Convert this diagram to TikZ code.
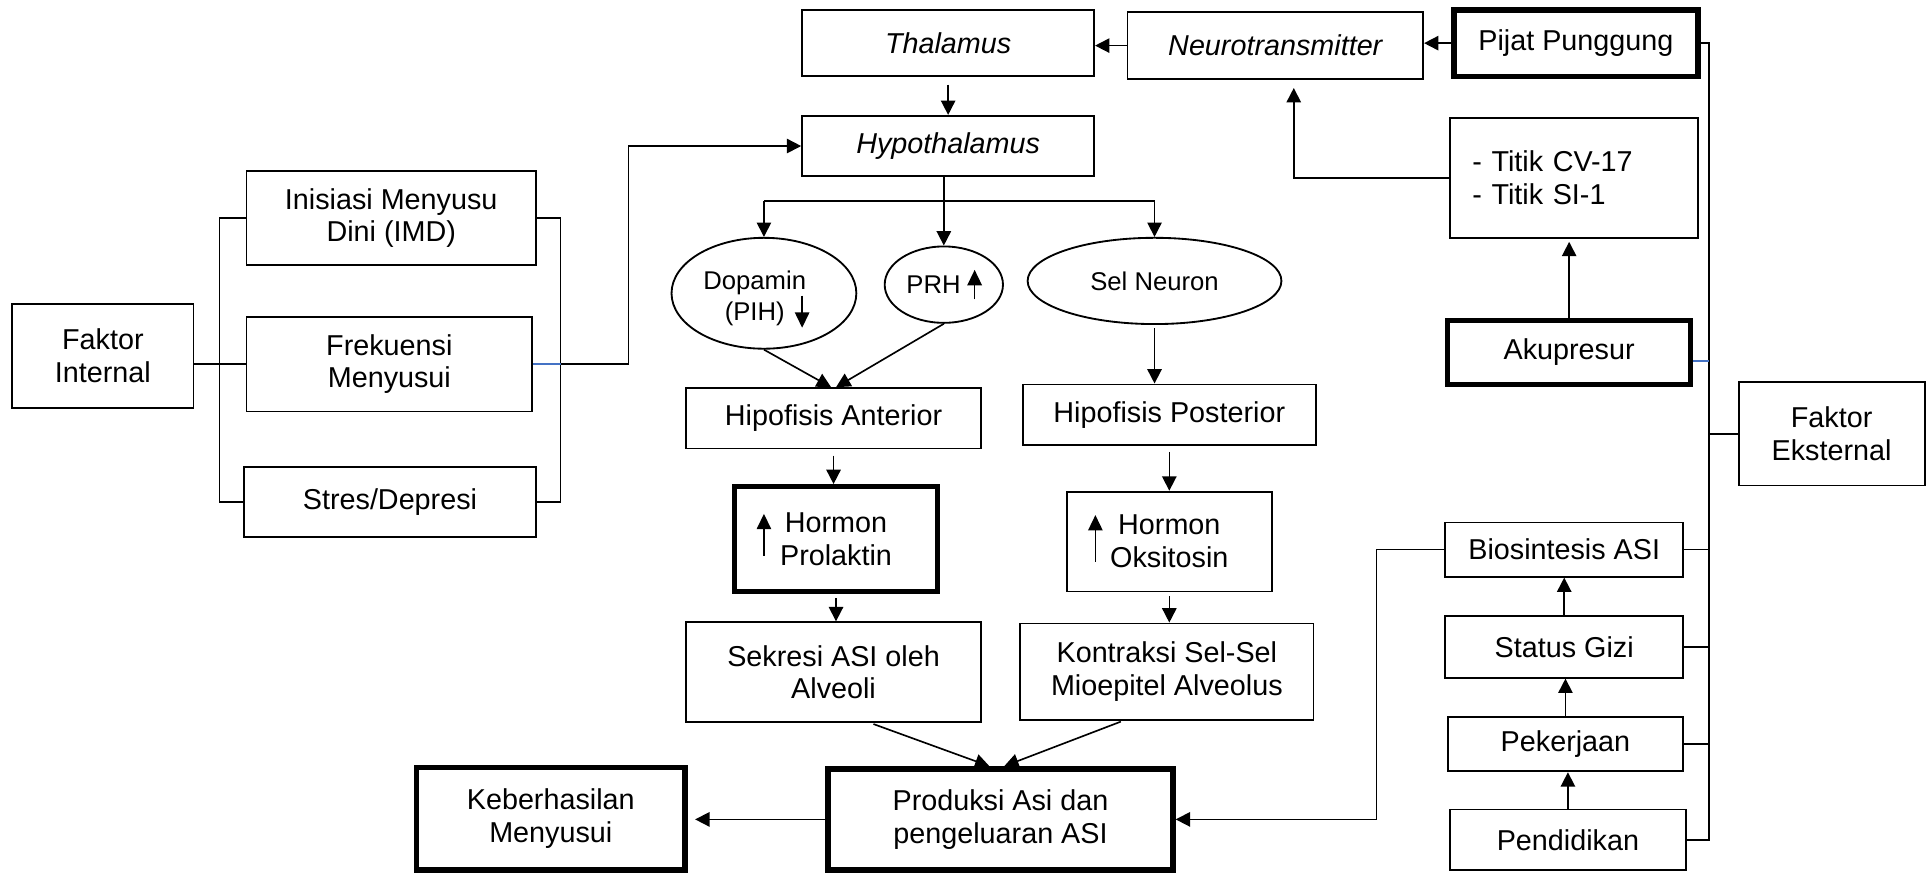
\documentclass[tikz,border=0pt]{standalone}
\usepackage{fontspec}
\setmainfont{Liberation Sans}
\usetikzlibrary{arrows.meta,shapes.geometric,calc}
\definecolor{bluel}{RGB}{68,114,196}
\begin{document}
\begin{tikzpicture}[x=0.6pt,y=-0.6pt,
  box/.style={draw,line width=0.9pt,inner sep=0pt,align=center,font=\fontsize{14}{16}\selectfont},
  tbox/.style={box,line width=2.6pt},
  ell/.style={draw,ellipse,line width=0.9pt,inner sep=0pt,align=center,font=\fontsize{12.5}{15}\selectfont},
  arr/.style={line width=0.8pt,-{Triangle[length=7pt,width=7pt]}},
  sarr/.style={line width=0.8pt,-{Triangle[length=7.5pt,width=7pt]}},
  ln/.style={line width=0.8pt},
  bl/.style={line width=0.9pt,draw=bluel}]
\useasboundingbox (0,0) rectangle (1568,709);
% boxes
\node[box,minimum width=142.2pt,minimum height=32.4pt] (thal) at (769.5,35) {\itshape Thalamus};
\node[box,minimum width=144pt,minimum height=32.4pt] (neuro) at (1035,37) {\itshape Neurotransmitter};
\node[tbox,minimum width=118.8pt,minimum height=32.4pt] (pijat) at (1279,35) {Pijat Punggung};
\node[box,minimum width=142.2pt,minimum height=29.4pt] (hypo) at (769.5,118.5) {\itshape Hypothalamus};
\node[box,minimum width=120.6pt,minimum height=58.2pt,text width=99pt,align=left] (titik) at (1277.5,144.5) {- Titik CV-17\\- Titik SI-1};
\node[tbox,minimum width=118.2pt,minimum height=31.2pt] (aku) at (1273.5,286) {Akupresur};
\node[box,minimum width=90.6pt,minimum height=50.4pt] (feks) at (1486.5,352) {Faktor\\Eksternal};
\node[box,minimum width=141pt,minimum height=45.6pt] (inis) at (317.5,177) {Inisiasi Menyusu\\Dini (IMD)};
\node[box,minimum width=139.2pt,minimum height=46.2pt] (frek) at (316,295.5) {Frekuensi\\Menyusui};
\node[box,minimum width=142.2pt,minimum height=34.2pt] (stres) at (316.5,407.5) {Stres/Depresi};
\node[box,minimum width=88.2pt,minimum height=50.4pt] (fint) at (83.5,289) {Faktor\\Internal};
\node[box,minimum width=143.4pt,minimum height=29.4pt] (hant) at (676.5,339.5) {Hipofisis Anterior};
\node[box,minimum width=142.8pt,minimum height=29.4pt] (hpos) at (949,336.5) {Hipofisis Posterior};
\node[tbox,minimum width=99pt,minimum height=51pt] (prol) at (678.5,437.5) {Hormon\\Prolaktin};
\node[box,minimum width=99.6pt,minimum height=48.6pt] (oks) at (949,439.5) {Hormon\\Oksitosin};
\node[box,minimum width=143.4pt,minimum height=48.6pt] (sek) at (676.5,545.5) {Sekresi ASI oleh\\Alveoli};
\node[box,minimum width=142.8pt,minimum height=46.8pt] (kon) at (947,545) {Kontraksi Sel-Sel\\Mioepitel Alveolus};
\node[tbox,minimum width=168pt,minimum height=49.2pt] (prod) at (812,665) {Produksi Asi dan\\pengeluaran ASI};
\node[tbox,minimum width=130.8pt,minimum height=49.8pt] (keb) at (447,664.5) {Keberhasilan\\Menyusui};
\node[box,minimum width=115.8pt,minimum height=26.4pt] (bio) at (1269.5,446) {Biosintesis ASI};
\node[box,minimum width=115.8pt,minimum height=30pt] (gizi) at (1269.5,525) {Status Gizi};
\node[box,minimum width=114.6pt,minimum height=26.4pt] (pek) at (1270.5,604) {Pekerjaan};
\node[box,minimum width=114.6pt,minimum height=29.4pt] (pend) at (1272.5,681.5) {Pendidikan};
% ellipses
\node[ell,minimum width=90pt,minimum height=54pt] (dop) at (620,238) {\rule{0pt}{14pt}Dopamin\hspace*{9pt}\\(PIH)\hspace*{9pt}};
\node[ell,minimum width=57.6pt,minimum height=37.2pt] (prh) at (766,231) {PRH\hspace*{10pt}};
\node[ell,minimum width=123.6pt,minimum height=42pt] (sel) at (937,228) {Sel Neuron};
% small arrows inside
\draw[sarr] (651,240) -- (651,266);
\draw[sarr] (791,243) -- (791,219);
\draw[sarr] (620,451) -- (620,417);
\draw[sarr] (889,456) -- (889,418);
% helper coordinates
\coordinate (rbx) at (455,0);
\coordinate (lbx) at (178,0);
\coordinate (jx) at (510,0);
\coordinate (hb) at (0,163);
\coordinate (bx) at (1117,0);
\coordinate (tx) at (1050,0);
\coordinate (ebx) at (1387,0);
% top row
\draw[arr] (neuro.west) -- (neuro.west -| thal.east);
\draw[arr] (pijat.west) -- (pijat.west -| neuro.east);
\draw[arr,shorten <=3.6pt] (thal.south) -- (hypo.north);
% left side
\draw[ln] (inis.west) -- (inis.west -| lbx) -- (stres.west -| lbx) -- (stres.west);
\draw[ln] (frek.west -| fint.east) -- (frek.west);
\draw[ln] (inis.east) -- (inis.east -| rbx) -- (stres.east -| rbx) -- (stres.east);
\draw[bl] (frek.east) -- (frek.east -| rbx);
\draw[arr] (frek.east -| rbx) -- (frek.east -| jx) |- (hypo.west);
% hypothalamus branches
\draw[ln] (dop.north |- hb) -- (sel.north |- hb);
\draw[arr] (dop.north |- hb) -- (dop.north);
\draw[arr] (sel.north |- hb) -- (sel.north);
\draw[arr] (hypo.south -| prh.north) -- (prh.north);
% middle chains
\draw[arr] (dop.south) -- ($(hant.north)+(-2,0)$);
\draw[arr] (prh.south) -- ($(hant.north)+(2,0)$);
\draw[arr,shorten <=1.5pt] (sel.south) -- (sel.south |- hpos.north);
\draw[arr,shorten <=3pt] (hant.south) -- (hant.south |- prol.north);
\draw[arr,shorten <=3pt] (hpos.south) -- (hpos.south |- oks.north);
\draw[arr,shorten <=2pt] (prol.south) -- (prol.south |- sek.north);
\draw[arr,shorten <=2pt] (oks.south) -- (oks.south |- kon.north);
\draw[arr,shorten <=1.5pt] ($(sek.south)+(30,0)$) -- ($(prod.north)+(-9,0)$);
\draw[arr,shorten <=1.5pt] ($(kon.south)+(-35,0)$) -- ($(prod.north)+(3,0)$);
\draw[arr,shorten >=3.6pt] (prod.west) -- (prod.west -| keb.east);
% right side
\draw[arr] (bio.west) -- (bio.west -| bx) |- (prod.east);
\draw[arr,shorten >=4pt] (titik.west) -- (titik.west -| tx) -- (tx |- neuro.south);
\draw[arr,shorten >=1.5pt] (aku.north) -- (aku.north |- titik.south);
\draw[arr] (pend.north) -- (pend.north |- pek.south);
\draw[arr] (pek.north) -- (pek.north |- gizi.south);
\draw[arr] (gizi.north) -- (gizi.north |- bio.south);
% external bus
\draw[ln] (pijat.east) -- (pijat.east -| ebx) -- (pend.east -| ebx) -- (pend.east);
\draw[bl] ($(aku.east)+(0,7)$) -- ($(aku.east -| ebx)+(0,7)$);
\draw[ln] (feks.west) -- (feks.west -| ebx);
\draw[ln] (bio.east) -- (bio.east -| ebx);
\draw[ln] (gizi.east) -- (gizi.east -| ebx);
\draw[ln] (pek.east) -- (pek.east -| ebx);
\end{tikzpicture}
\end{document}
